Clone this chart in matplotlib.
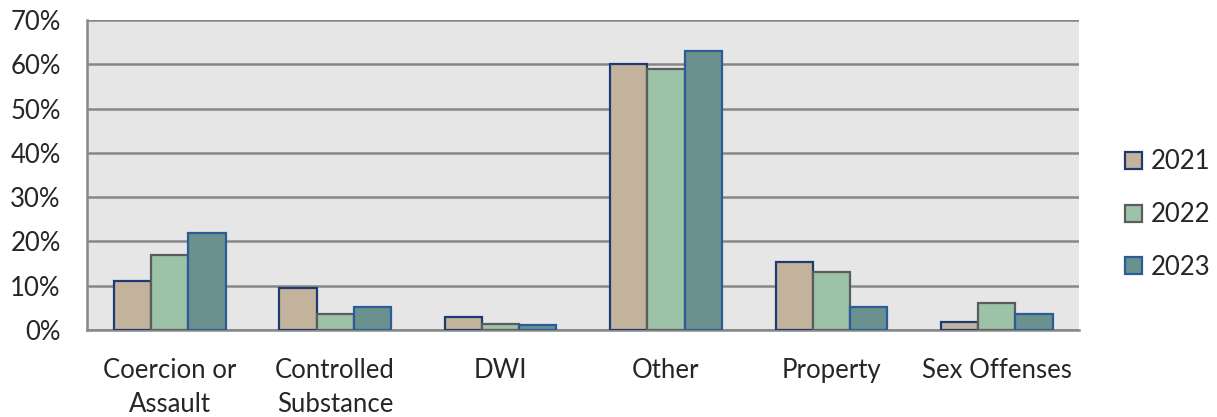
import numpy as np
import matplotlib
matplotlib.use('Agg')
import matplotlib.pyplot as plt
from matplotlib.ticker import PercentFormatter

plt.rcParams['font.family'] = ['Lato', 'DejaVu Sans']

# offense categories and share of cases per year (%)
categories = ['Coercion or\nAssault', 'Controlled\nSubstance', 'DWI', 'Other', 'Property', 'Sex Offenses']
years = ['2021', '2022', '2023']
pct_2021 = [11.0, 9.4, 2.9, 60.0, 15.3, 1.8]
pct_2022 = [16.9, 3.7, 1.4, 58.9, 13.2, 6.2]
pct_2023 = [22.0, 5.3, 1.1, 63.1, 5.2, 3.7]

fills = ['#c4b39c', '#9cc2a8', '#6b918f']
edges = ['#1f3a70', '#5c5c5c', '#2a5c98']

fig = plt.figure(figsize=(12.17, 4.17), dpi=100)
ax = fig.add_axes([0.0715, 0.2086, 0.8155, 0.7434])

x = np.arange(len(categories))
w = 0.225
for i, (vals, yr) in enumerate(zip([pct_2021, pct_2022, pct_2023], years)):
    ax.bar(x + (i - 1) * w, vals, w, color=fills[i], edgecolor=edges[i],
           linewidth=1.6, label=yr, zorder=3)

ax.set_facecolor('#e6e6e6')
ax.set_xlim(-0.5, len(categories) - 0.5)
ax.set_ylim(0, 70)
ax.set_yticks(np.arange(0, 71, 10))
ax.yaxis.set_major_formatter(PercentFormatter(decimals=0))
ax.grid(axis='y', color='#878787', linewidth=1.8, zorder=1)

ax.set_xticks(x)
ax.set_xticklabels(categories, linespacing=1.45)
ax.tick_params(axis='y', length=0, pad=19, labelsize=18.5, labelcolor='#262626')
ax.tick_params(axis='x', length=0, pad=20, labelsize=18.5, labelcolor='#262626')

for side in ['top', 'right']:
    ax.spines[side].set_visible(False)
for side in ['left', 'bottom']:
    ax.spines[side].set_color('#878787')
    ax.spines[side].set_linewidth(1.8)

leg = ax.legend(loc='center left', bbox_to_anchor=(1.046, 0.372), frameon=False,
                fontsize=18.5, handlelength=0.65, handleheight=0.65,
                handletextpad=0.35, labelspacing=1.08,
                borderpad=0, borderaxespad=0)
for t in leg.get_texts():
    t.set_color('#262626')

fig.savefig('out.png', dpi=100)
